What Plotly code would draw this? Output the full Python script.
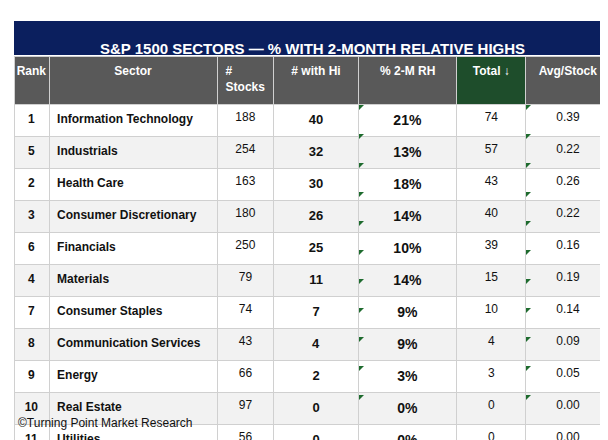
import plotly.graph_objects as go

rank = [1, 5, 2, 3, 6, 4, 7, 8, 9, 10, 11]
sector = ["Information Technology", "Industrials", "Health Care", "Consumer Discretionary",
          "Financials", "Materials", "Consumer Staples", "Communication Services",
          "Energy", "Real Estate", "Utilities"]
stocks = [188, 254, 163, 180, 250, 79, 74, 43, 66, 97, 56]
with_hi = [40, 32, 30, 26, 25, 11, 7, 4, 2, 0, 0]
pct = ["21%", "13%", "18%", "14%", "10%", "14%", "9%", "9%", "3%", "0%", "0%"]
total = [74, 57, 43, 40, 39, 15, 10, 4, 3, 0, 0]
avg = ["0.39", "0.22", "0.26", "0.22", "0.16", "0.19", "0.14", "0.09", "0.05", "0.00", "0.00"]
headers = ["Rank", "Sector", "# Stocks", "# with Hi", "% 2-M RH", "Total ↓", "Avg/Stock"]

W, H = 608, 440
x0, x1 = 6, 602
top_hdr, row_h, hdr_h = 48, 29, 48
n = len(rank)

fills = ["white" if i % 2 == 0 else "#f2f2f2" for i in range(n)]
b = lambda v: [f"<b>{x}</b>" for x in v]

fig = go.Figure(go.Table(
    domain=dict(x=[x0 / W, x1 / W], y=[0, 1 - top_hdr / H]),
    columnwidth=[35, 168, 56, 85, 98, 69, 84],
    header=dict(
        values=[f"<b>{h}</b>" for h in headers],
        fill_color=["#595959"] * 5 + ["#1e4d2b", "#595959"],
        font=dict(color="white", size=12, family="Liberation Sans"),
        align="center", height=hdr_h, line_color="#d0d0d0"),
    cells=dict(
        values=[b(rank), b(sector), stocks, b(with_hi), b(pct), total, avg],
        fill_color=[fills] * 7,
        font=dict(color="#111111", family="Liberation Sans",
                  size=[12, 12, 12, 13, 14, 12, 12]),
        align=["center", "left", "center", "center", "center", "center", "center"],
        height=row_h, line_color="#d0d0d0"),
))

# title bar
fig.add_shape(type="rect", xref="paper", yref="paper",
              x0=x0 / W, x1=x1 / W, y0=1 - 47 / H, y1=1 - 13 / H,
              fillcolor="#0b1f5e", line_width=0)
fig.add_annotation(x=0.5, y=1 - 30 / H, xref="paper", yref="paper", showarrow=False,
                   text="<b>S&P 1500 SECTORS — % WITH 2-MONTH RELATIVE HIGHS</b>",
                   font=dict(color="white", size=15, family="Liberation Sans"))

# green corner markers
for i in range(n):
    yt = 1 - (top_hdr + hdr_h + row_h * i) / H
    for cx in (350, 517):
        xa, ya = (cx + 1) / W, yt - 1 / H
        fig.add_shape(type="path", xref="paper", yref="paper",
                      path=f"M {xa} {ya} L {xa + 5 / W} {ya} L {xa} {ya - 5 / H} Z",
                      fillcolor="#1e6b2e", line_width=0)

fig.add_annotation(x=8 / W, y=1 - 424 / H, xref="paper", yref="paper", showarrow=False,
                   xanchor="left", text="©Turning Point Market Research",
                   font=dict(color="#111111", size=12, family="Liberation Sans"))

fig.update_layout(width=W, height=H, margin=dict(l=0, r=0, t=0, b=0),
                  paper_bgcolor="white")
fig.write_html("out.html")
